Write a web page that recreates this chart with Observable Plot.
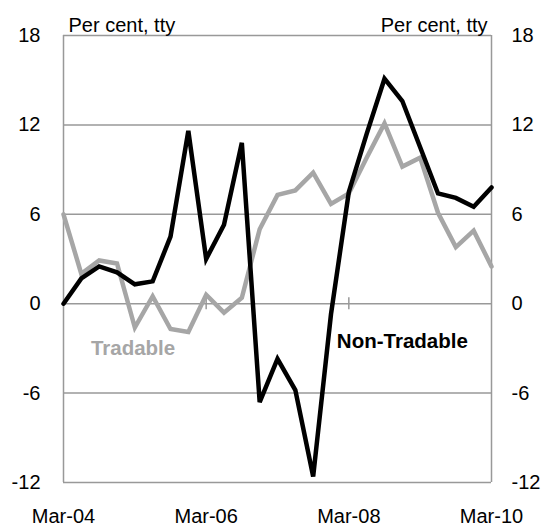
<!DOCTYPE html>
<html>
<head>
<meta charset="utf-8">
<script src="https://cdn.jsdelivr.net/npm/d3@7"></script>
<script src="https://cdn.jsdelivr.net/npm/@observablehq/plot@0.6"></script>
<style>
  html, body { margin: 0; padding: 0; background: #fff; }
  #chart svg { display: block; }
</style>
</head>
<body>
<div id="chart"></div>
<script>
const quarters = [
  "Mar-04","Jun-04","Sep-04","Dec-04",
  "Mar-05","Jun-05","Sep-05","Dec-05",
  "Mar-06","Jun-06","Sep-06","Dec-06",
  "Mar-07","Jun-07","Sep-07","Dec-07",
  "Mar-08","Jun-08","Sep-08","Dec-08",
  "Mar-09","Jun-09","Sep-09","Dec-09",
  "Mar-10"
];
const nonTradable = [0.0, 1.7, 2.5, 2.1, 1.3, 1.5, 4.5, 11.6, 3.0, 5.3, 10.8, -6.6, -3.7, -5.8, -11.6, -0.7, 7.5, 11.4, 15.1, 13.6, 10.5, 7.4, 7.1, 6.5, 7.8];
const tradable = [6.0, 2.0, 2.9, 2.7, -1.6, 0.5, -1.7, -1.9, 0.6, -0.6, 0.4, 5.0, 7.3, 7.6, 8.8, 6.7, 7.4, 9.8, 12.1, 9.2, 9.8, 6.1, 3.8, 4.9, 2.5];
const xTicks = ["Mar-04", "Mar-06", "Mar-08", "Mar-10"];
const yTicks = [-12, -6, 0, 6, 12, 18];
const unitLabel = "Per cent, tty";

const idx = q => quarters.indexOf(q);
const nt = quarters.map((q, i) => ({i, v: nonTradable[i]}));
const tr = quarters.map((q, i) => ({i, v: tradable[i]}));
const xTickIdx = xTicks.map(idx);

const gridColor = "#999999";
const grayLine = "#a6a6a6";
const fmtY = d => String(d);
const fmtX = i => quarters[i];

const chart = Plot.plot({
  width: 550,
  height: 527,
  marginTop: 35,
  marginBottom: 45,
  marginLeft: 63,
  marginRight: 59,
  style: {fontFamily: "'Liberation Sans', Arial, sans-serif", fontSize: "20px", color: "#000", background: "#fff"},
  x: {domain: [0, quarters.length - 1]},
  y: {domain: [-12, 18]},
  marks: [
    Plot.ruleY(yTicks, {stroke: gridColor, strokeWidth: 1.5}),
    Plot.ruleX([0, quarters.length - 1], {stroke: gridColor, strokeWidth: 1.5}),
    Plot.ruleX(xTickIdx.slice(1, -1), {y1: -0.4, y2: 0.4, stroke: gridColor, strokeWidth: 1.5}),
    Plot.axisY(yTicks, {anchor: "left", tickSize: 0, tickPadding: 23, label: null, fill: "#000", tickFormat: fmtY}),
    Plot.axisY(yTicks, {anchor: "right", tickSize: 0, tickPadding: 20, label: null, fill: "#000", tickFormat: fmtY}),
    Plot.axisX(xTickIdx, {anchor: "bottom", tickSize: 0, tickPadding: 26, label: null, fill: "#000", tickFormat: fmtX}),
    Plot.text([unitLabel], {frameAnchor: "top-left", textAnchor: "start", lineAnchor: "bottom", dx: 5, dy: -4, fill: "#000"}),
    Plot.text([unitLabel], {frameAnchor: "top-right", textAnchor: "end", lineAnchor: "bottom", dx: -4, dy: -4, fill: "#000"}),
    Plot.line(tr, {x: "i", y: "v", stroke: grayLine, strokeWidth: 4.5, strokeLinejoin: "miter", strokeMiterlimit: 4}),
    Plot.line(nt, {x: "i", y: "v", stroke: "#000", strokeWidth: 4.5, strokeLinejoin: "miter", strokeMiterlimit: 4}),
    Plot.text(["Tradable"], {x: () => 3.9, y: () => -3.0, fill: grayLine, fontWeight: "bold", fontSize: 20.5}),
    Plot.text(["Non-Tradable"], {x: () => 19.0, y: () => -2.5, fill: "#000", fontWeight: "bold", fontSize: 20.5})
  ]
});
document.getElementById("chart").appendChild(chart);
</script>
</body>
</html>
